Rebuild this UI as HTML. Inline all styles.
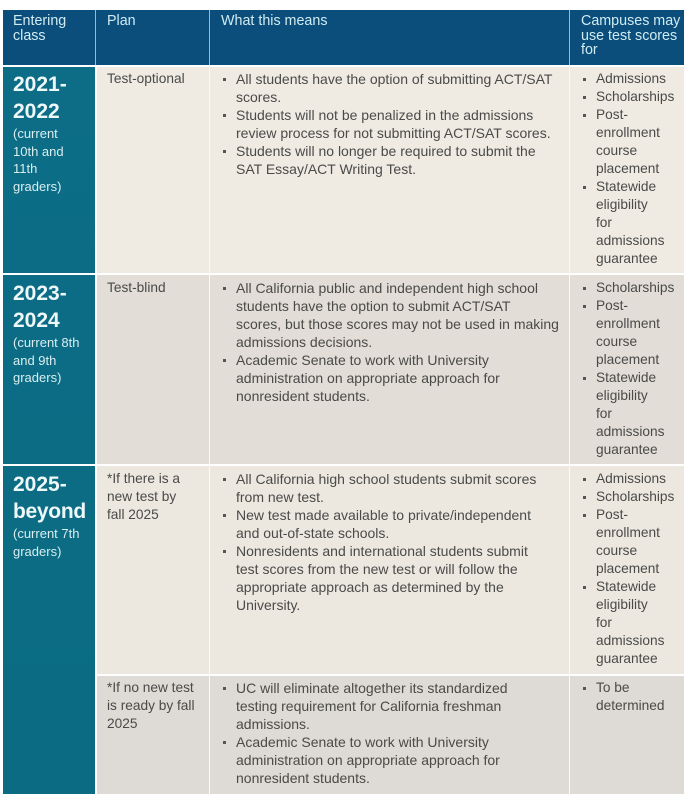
<!DOCTYPE html>
<html><head><meta charset="utf-8"><style>
*{margin:0;padding:0;box-sizing:border-box}
body{width:690px;height:802px;background:#fff;position:relative;overflow:hidden;font-family:"Liberation Sans",sans-serif;color:#4a4a48}
.b{position:absolute}
.t{position:absolute;font-size:13.7px;line-height:18px;white-space:nowrap}
.w{font-size:14px}
.h{position:absolute;font-size:14.3px;line-height:14.5px;color:#d0ecf2;white-space:nowrap}
.y{position:absolute;color:#eef8f8;white-space:nowrap}
.y b{display:block;font-size:21px;line-height:27px}
.y span{display:block;font-size:13px;line-height:17.5px;color:#d8eef0}
ul{list-style:none}
li{position:relative;padding-left:14px}
li:before{content:"";position:absolute;left:1px;top:8px;width:3px;height:3px;background:#555}
</style></head><body>
<div class="b" style="left:3px;top:10px;width:681px;height:55px;background:#0b4e7b"></div>
<div class="b" style="left:95px;top:10px;width:1px;height:55px;background:#9cb8cc"></div>
<div class="b" style="left:209px;top:10px;width:1px;height:55px;background:#9cb8cc"></div>
<div class="b" style="left:569px;top:10px;width:1px;height:55px;background:#9cb8cc"></div>
<div class="h" style="left:13px;top:14px">Entering<br>class</div>
<div class="h" style="left:107px;top:14px">Plan</div>
<div class="h" style="left:221px;top:14px">What this means</div>
<div class="h" style="left:581px;top:14px">Campuses may<br>use test scores<br>for</div>

<div class="b" style="left:3px;top:67px;width:92px;height:727px;background:linear-gradient(#0d6d87,#0a6b82)"></div>
<div class="b" style="left:3px;top:273px;width:92px;height:2px;background:#fff"></div>
<div class="b" style="left:3px;top:464px;width:92px;height:2px;background:#fff"></div>

<div class="b" style="left:97px;top:67px;width:587px;height:206px;background:#efebe3"></div>
<div class="b" style="left:97px;top:275px;width:587px;height:189px;background:#e2ddd6"></div>
<div class="b" style="left:97px;top:466px;width:587px;height:208px;background:#ece8e0"></div>
<div class="b" style="left:97px;top:676px;width:587px;height:118px;background:#dedad5"></div>
<div class="b" style="left:209px;top:67px;width:1px;height:727px;background:#fbfaf7"></div>
<div class="b" style="left:569px;top:67px;width:1px;height:727px;background:#fbfaf7"></div>

<div class="y" style="left:13px;top:71px"><b>2021-</b><b>2022</b><span>(current<br>10th and<br>11th<br>graders)</span></div>
<div class="y" style="left:13px;top:280px"><b>2023-</b><b>2024</b><span>(current 8th<br>and 9th<br>graders)</span></div>
<div class="y" style="left:13px;top:471px"><b>2025-</b><b style="letter-spacing:-0.3px">beyond</b><span>(current 7th<br>graders)</span></div>

<div class="t" style="left:107px;top:70px">Test-optional</div>
<ul class="t w" style="left:222px;top:70px">
<li>All students have the option of submitting ACT/SAT<br>scores.</li>
<li>Students will not be penalized in the admissions<br>review process for not submitting ACT/SAT scores.</li>
<li>Students will no longer be required to submit the<br>SAT Essay/ACT Writing Test.</li></ul>
<ul class="t" style="left:582px;top:70px">
<li>Admissions</li><li>Scholarships</li><li>Post-<br>enrollment<br>course<br>placement</li><li>Statewide<br>eligibility<br>for<br>admissions<br>guarantee</li></ul>

<div class="t" style="left:107px;top:279px">Test-blind</div>
<ul class="t w" style="left:222px;top:279px">
<li>All California public and independent high school<br>students have the option to submit ACT/SAT<br>scores, but those scores may not be used in making<br>admissions decisions.</li>
<li>Academic Senate to work with University<br>administration on appropriate approach for<br>nonresident students.</li></ul>
<ul class="t" style="left:582px;top:279px">
<li>Scholarships</li><li>Post-<br>enrollment<br>course<br>placement</li><li>Statewide<br>eligibility<br>for<br>admissions<br>guarantee</li></ul>

<div class="t" style="left:107px;top:470px">*If there is a<br>new test by<br>fall 2025</div>
<ul class="t w" style="left:222px;top:470px">
<li>All California high school students submit scores<br>from new test.</li>
<li>New test made available to private/independent<br>and out-of-state schools.</li>
<li>Nonresidents and international students submit<br>test scores from the new test or will follow the<br>appropriate approach as determined by the<br>University.</li></ul>
<ul class="t" style="left:582px;top:470px">
<li>Admissions</li><li>Scholarships</li><li>Post-<br>enrollment<br>course<br>placement</li><li>Statewide<br>eligibility<br>for<br>admissions<br>guarantee</li></ul>

<div class="t" style="left:107px;top:679px">*If no new test<br>is ready by fall<br>2025</div>
<ul class="t w" style="left:222px;top:679px">
<li>UC will eliminate altogether its standardized<br>testing requirement for California freshman<br>admissions.</li>
<li>Academic Senate to work with University<br>administration on appropriate approach for<br>nonresident students.</li></ul>
<ul class="t" style="left:582px;top:679px">
<li>To be<br>determined</li></ul>
</body></html>
